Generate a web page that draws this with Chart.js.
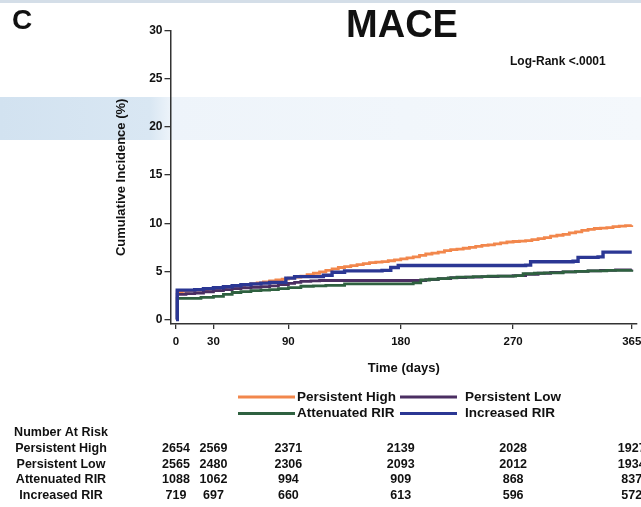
<!DOCTYPE html>
<html>
<head>
<meta charset="utf-8">
<script src="https://cdn.jsdelivr.net/npm/chart.js@4"></script>
<style>
  html, body { margin: 0; padding: 0; background: #fff; }
  #wrap { position: relative; width: 641px; height: 507px; overflow: hidden; }
  #band { position: absolute; left: 0; top: 97px; width: 641px; height: 43px;
          background: linear-gradient(to right, #d2e2f0 0px, #d9e7f3 150px, #eef4fa 172px, #f4f8fc 641px); }
  #topline { position: absolute; left: 0; top: 0; width: 641px; height: 3px; background: #d4dee8; }
  canvas { position: absolute; left: 0; top: 0; }
</style>
</head>
<body>
<div id="wrap">
  <div id="topline"></div>
  <div id="band"></div>
  <canvas id="c" width="641" height="507"></canvas>
</div>
<script>
// ---- Data ----
const seriesNames = ['Persistent High', 'Persistent Low', 'Attenuated RIR', 'Increased RIR'];
const seriesColors = ['#f2874c', '#4b2e62', '#2f6140', '#2b3794'];

const highDays = [0, 1, 5, 10, 15, 20, 25, 30, 35, 40, 45, 50, 55, 60, 65, 70, 75, 80, 85, 90, 95, 100, 105, 110, 115, 120, 125, 130, 135, 140, 145, 150, 155, 160, 165, 170, 175, 180, 185, 190, 195, 200, 205, 210, 215, 220, 225, 230, 235, 240, 245, 250, 255, 260, 265, 270, 275, 280, 285, 290, 295, 300, 305, 310, 315, 320, 325, 330, 335, 340, 345, 350, 355, 360, 365];
const highVals = [0, 2.9, 2.95, 3.0, 3.05, 3.1, 3.15, 3.2, 3.3, 3.4, 3.45, 3.5, 3.6, 3.7, 3.8, 3.9, 4.0, 4.1, 4.2, 4.3, 4.4, 4.5, 4.65, 4.8, 4.95, 5.1, 5.25, 5.4, 5.5, 5.6, 5.7, 5.8, 5.9, 5.95, 6.0, 6.1, 6.2, 6.3, 6.4, 6.5, 6.65, 6.8, 6.9, 7.0, 7.15, 7.25, 7.3, 7.4, 7.5, 7.6, 7.7, 7.75, 7.85, 7.95, 8.05, 8.1, 8.15, 8.2, 8.3, 8.4, 8.5, 8.65, 8.75, 8.85, 9.0, 9.1, 9.25, 9.35, 9.45, 9.5, 9.55, 9.65, 9.7, 9.75, 9.8];

const lowDays = [0, 1, 8, 15, 22, 30, 38, 45, 52, 60, 68, 75, 82, 90, 95, 100, 108, 115, 200, 210, 220, 232, 245, 258, 270, 280, 290, 300, 310, 320, 330, 340, 352, 365];
const lowVals = [0, 2.6, 2.68, 2.75, 2.88, 3.0, 3.1, 3.2, 3.28, 3.35, 3.42, 3.5, 3.62, 3.75, 3.85, 3.95, 4.0, 4.05, 4.15, 4.25, 4.35, 4.4, 4.45, 4.5, 4.55, 4.7, 4.8, 4.9, 4.95, 5.0, 5.05, 5.1, 5.15, 5.2];

const attDays = [0, 1, 20, 30, 38, 45, 52, 60, 68, 75, 82, 90, 100, 110, 120, 135, 190, 196, 203, 210, 218, 225, 238, 250, 272, 278, 287, 295, 310, 320, 330, 345, 365];
const attVals = [0, 2.2, 2.3, 2.4, 2.6, 2.8, 2.9, 3.0, 3.05, 3.1, 3.2, 3.3, 3.45, 3.5, 3.55, 3.7, 3.8, 4.1, 4.18, 4.25, 4.33, 4.4, 4.45, 4.5, 4.55, 4.75, 4.8, 4.85, 4.95, 5.0, 5.05, 5.1, 5.15];

const incDays = [0, 1, 15, 22, 30, 38, 45, 52, 60, 68, 75, 88, 95, 118, 125, 135, 165, 172, 178, 280, 284, 318, 322, 338, 342, 365];
const incVals = [0, 3.05, 3.1, 3.2, 3.3, 3.4, 3.5, 3.6, 3.7, 3.78, 3.85, 4.3, 4.45, 4.6, 4.9, 5.05, 5.1, 5.4, 5.6, 5.65, 6.0, 6.05, 6.45, 6.5, 7.0, 7.0];

const xTicks = [0, 30, 90, 180, 270, 365];
const yTicks = [0, 5, 10, 15, 20, 25, 30];

const riskLabels = ['Persistent High', 'Persistent Low', 'Attenuated RIR', 'Increased RIR'];
const riskHigh = ['2654', '2569', '2371', '2139', '2028', '1927'];
const riskLow = ['2565', '2480', '2306', '2093', '2012', '1934'];
const riskAtt = ['1088', '1062', '994', '909', '868', '837'];
const riskInc = ['719', '697', '660', '613', '596', '572'];

const FONT = '"Liberation Sans", Arial, sans-serif';

function pts(days, vals) { return days.map((d, i) => ({ x: d, y: vals[i] })); }

const allDays = [highDays, lowDays, attDays, incDays];
const allVals = [highVals, lowVals, attVals, incVals];
const drawOrder = [3, 2, 1, 0];
const widths = [2.8, 2.8, 2.8, 3.4];

const datasets = seriesNames.map((n, i) => ({
  label: n,
  data: pts(allDays[i], allVals[i]),
  borderColor: seriesColors[i],
  backgroundColor: seriesColors[i],
  borderWidth: widths[i],
  stepped: 'before',
  pointRadius: 0,
  fill: false,
  order: drawOrder[i]
}));

const overlay = {
  id: 'overlay',
  afterDraw(chart) {
    const ctx = chart.ctx;
    const xs = chart.scales.x;
    ctx.save();
    ctx.fillStyle = '#111';
    ctx.font = 'bold 28px ' + FONT;
    ctx.textAlign = 'left'; ctx.textBaseline = 'middle';
    ctx.fillText('C', 12, 21);
    ctx.font = 'bold 38px ' + FONT;
    ctx.textAlign = 'center';
    ctx.fillText('MACE', 402, 27);
    ctx.font = 'bold 12px ' + FONT;
    ctx.textAlign = 'left';
    ctx.fillText('Log-Rank <.0001', 510, 62);

    const legendItems = [
      { i: 0, lx: 238, tx: 297, y: 397 },
      { i: 1, lx: 400, tx: 465, y: 397 },
      { i: 2, lx: 238, tx: 297, y: 413.5 },
      { i: 3, lx: 400, tx: 465, y: 413.5 }
    ];
    ctx.font = 'bold 13.5px ' + FONT;
    legendItems.forEach(it => {
      ctx.strokeStyle = seriesColors[it.i];
      ctx.lineWidth = 3;
      ctx.beginPath();
      ctx.moveTo(it.lx, it.y);
      ctx.lineTo(it.lx + 57, it.y);
      ctx.stroke();
      ctx.fillStyle = '#111';
      ctx.textAlign = 'left';
      ctx.fillText(seriesNames[it.i], it.tx, it.y);
    });

    ctx.font = 'bold 12.5px ' + FONT;
    ctx.textAlign = 'center';
    ctx.fillStyle = '#111';
    ctx.fillText('Number At Risk', 61, 432.5);
    const rows = [riskHigh, riskLow, riskAtt, riskInc];
    const rowY = [448.5, 464.5, 480, 496];
    rows.forEach((r, ri) => {
      ctx.fillText(riskLabels[ri], 61, rowY[ri]);
      r.forEach((v, ci) => {
        ctx.fillText(v, xs.getPixelForValue(xTicks[ci]), rowY[ri]);
      });
    });
    ctx.restore();
  }
};

new Chart(document.getElementById('c'), {
  type: 'line',
  data: { datasets },
  plugins: [overlay],
  options: {
    responsive: false,
    animation: false,
    devicePixelRatio: 1,
    layout: { padding: { left: 114, top: 30.7, right: 4, bottom: 130.9 } },
    plugins: { legend: { display: false }, tooltip: { enabled: false } },
    scales: {
      x: {
        type: 'linear',
        min: -4.4,
        max: 369.2,
        afterBuildTicks: s => { s.ticks = xTicks.map(v => ({ value: v })); },
        afterFit: s => { s.height = 52.1; s.paddingLeft = 0; s.paddingRight = 0; },
        ticks: {
          autoSkip: false,
          maxRotation: 0,
          padding: 6,
          color: '#111',
          font: { family: FONT, size: 11.5, weight: 'bold' }
        },
        grid: { display: true, drawOnChartArea: false, drawTicks: true, tickLength: 5, color: '#333', lineWidth: 1.3 },
        border: { display: true, color: '#333', width: 1.5 },
        title: {
          display: true, text: 'Time (days)', color: '#111',
          padding: 0,
          font: { family: FONT, size: 13, weight: 'bold' }
        }
      },
      y: {
        type: 'linear',
        min: -0.47,
        max: 30,
        afterBuildTicks: s => { s.ticks = yTicks.map(v => ({ value: v })); },
        afterFit: s => { s.width = 56.5; },
        ticks: {
          padding: 2,
          color: '#111',
          font: { family: FONT, size: 12, weight: 'bold' }
        },
        grid: { display: true, drawOnChartArea: false, drawTicks: true, tickLength: 6, color: '#333', lineWidth: 1.3 },
        border: { display: true, color: '#333', width: 1.5 },
        title: {
          display: true, text: 'Cumulative Incidence (%)', color: '#111',
          padding: 0,
          font: { family: FONT, size: 13, weight: 'bold' }
        }
      }
    }
  }
});
</script>
</body>
</html>
